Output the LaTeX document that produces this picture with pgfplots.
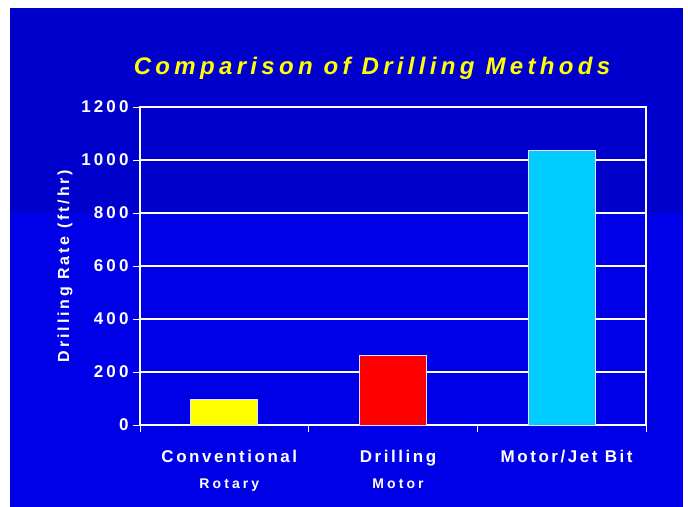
\documentclass[border=0pt]{standalone}
\usepackage{fontspec}
\setmainfont{Liberation Sans}
\usepackage{pgfplots}
\pgfplotsset{compat=1.18}
\definecolor{bgtop}{RGB}{0,0,204}
\definecolor{bgbot}{RGB}{0,0,232}
\definecolor{barY}{RGB}{255,255,0}
\definecolor{barR}{RGB}{255,0,0}
\definecolor{barC}{RGB}{0,204,255}
\definecolor{edge}{RGB}{225,225,255}
\begin{document}
\begin{tikzpicture}
\useasboundingbox (0,0) rectangle (688bp,-507bp);
\fill[white] (0,0) rectangle (688bp,-507bp);
\fill[bgtop] (10bp,-8bp) rectangle (683bp,-213bp);
\fill[bgbot] (10bp,-213bp) rectangle (683bp,-507bp);
\node[anchor=base, text=barY, font=\fontsize{24bp}{28bp}\selectfont\bfseries\itshape\addfontfeature{LetterSpace=18}] at (372bp,-74bp) {Comparison of Drilling Methods};
\begin{axis}[
  at={(140bp,-425bp)}, anchor=south west,
  scale only axis, width=506bp, height=318bp,
  xmin=0, xmax=3, ymin=0, ymax=1200,
  ytick={0,200,...,1200},
  xtick={0,1,2,3}, xticklabels={},
  xtick pos=bottom, ytick pos=left,
  extra x ticks={0.5,1.5,2.5},
  extra x tick labels={{Conventional\\[6bp]{\fontsize{14bp}{16bp}\selectfont\addfontfeature{LetterSpace=22}Rotary}},{Drilling\\[6bp]{\fontsize{14bp}{16bp}\selectfont\addfontfeature{LetterSpace=22}Motor}},{Motor/Jet Bit}},
  extra x tick style={major tick length=0pt, grid=none,
    xticklabel style={align=center, anchor=north, yshift=-22bp, xshift=5bp,
      font=\fontsize{17bp}{20bp}\selectfont\bfseries\addfontfeature{LetterSpace=15}}},
  tick align=outside,
  major tick length=7bp,
  x tick style={white, line width=1bp},
  y tick style={white, line width=1bp},
  axis line style={white, line width=1.2bp},
  ymajorgrids, grid style={white, line width=1.2bp},
  /pgf/number format/assume math mode=true,
  /pgf/number format/1000 sep={},
  yticklabel style={text=white, font=\fontsize{17bp}{19bp}\selectfont\bfseries\addfontfeature{LetterSpace=18}, xshift=-1bp},
  xticklabel style={text=white},
  ylabel={Drilling Rate (ft/hr)},
  ylabel style={at={(axis description cs:-0.148,0.5)}, anchor=center, text=white,
    font=\fontsize{16bp}{18bp}\selectfont\bfseries\addfontfeature{LetterSpace=18}},
  ybar, bar width=67bp, bar shift=0pt,
]
\addplot[fill=barY, draw=edge, line width=0.8bp] coordinates {(0.5,95)};
\addplot[fill=barR, draw=edge, line width=0.8bp] coordinates {(1.5,262)};
\addplot[fill=barC, draw=edge, line width=0.8bp] coordinates {(2.5,1035)};
\end{axis}
\end{tikzpicture}
\end{document}
